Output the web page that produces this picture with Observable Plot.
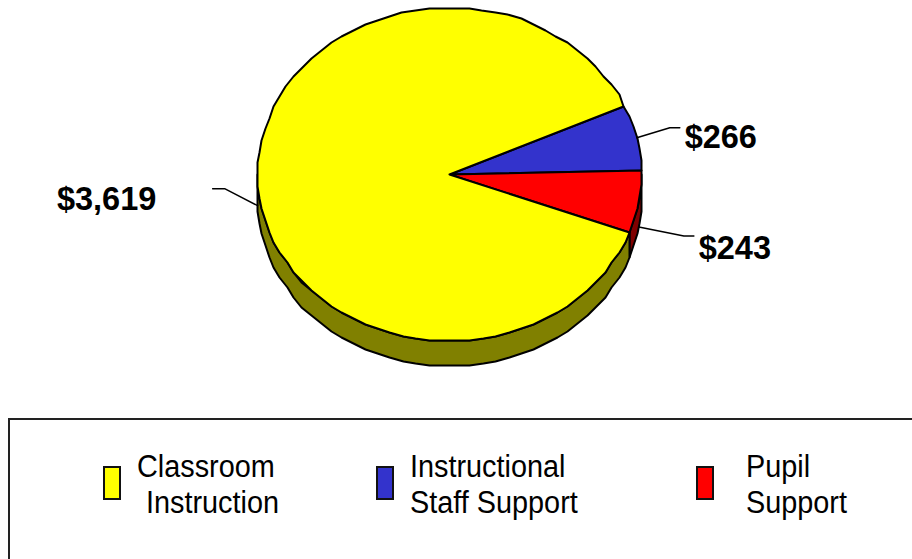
<!DOCTYPE html>
<html><head><meta charset="utf-8">
<script src="https://cdn.jsdelivr.net/npm/d3@7"></script>
<script src="https://cdn.jsdelivr.net/npm/@observablehq/plot@0.6"></script>
<style>
html,body{margin:0;padding:0;background:#fff;overflow:hidden;width:912px;height:559px}
#chart{position:absolute;left:0;top:0}
svg{display:block}
#legend{position:absolute;left:8px;top:418px;width:906px;height:143px;box-sizing:border-box;border:2px solid #222;font-family:"Liberation Sans",Arial,sans-serif;font-size:31px;color:#000}
#legend span{position:absolute;white-space:nowrap;line-height:36px;transform:scaleX(.93);transform-origin:left center}
#legend i{position:absolute;width:14px;height:30px;top:46px;border:2px solid #111;}
</style></head><body>
<div id="chart"></div>
<div id="legend"></div>
<script>
const categories = ["Instructional Staff Support", "Pupil Support", "Classroom Instruction"];
const values = [266, 243, 3619];
const valueLabels = ["$266", "$243", "$3,619"];
const topColors = ["#3333cc", "#ff0000", "#ffff00"];
const wallColors = ["#1a1a66", "#800000", "#808000"];
const startAngle = 24.3;
const legendOrder = [2, 0, 1];
const legendLines = [["Classroom", "Instruction"], ["Instructional", "Staff Support"], ["Pupil", "Support"]];

// pie layout, px
const W = 912, H = 418, cx = 449, cy = 174, rx = 192, ry = 167, depth = 25 / ry;
const grid = 2;
const rad = d => d * Math.PI / 180;
const px = a => Math.round(rx * Math.cos(rad(a)) / grid) * grid / rx;
const py = a => Math.round(ry * Math.sin(rad(a)) / grid) * grid / ry;

const total = d3.sum(values);
let cur = startAngle;
const slices = values.map((v, i) => {
  const a0 = cur, a1 = cur - v / total * 360; cur = a1;
  return {i, a0, a1, mid: (a0 + a1) / 2};
});
function arc(a0, a1) {
  const n = Math.max(1, Math.round(Math.abs(a1 - a0) / 4));
  return d3.range(n + 1).map(k => a0 + (a1 - a0) * k / n);
}
const topPts = [], wallPts = [];
for (const s of slices) {
  const ring = [[0, 0], ...arc(s.a0, s.a1).map(a => [px(a), py(a)]), [0, 0]];
  ring.forEach(p => topPts.push({x: p[0], y: p[1], i: s.i, fill: topColors[s.i]}));
  // visible wall: only the part of the rim on the lower half of the ellipse
  const from = Math.min(s.a0, 0), to = Math.max(s.a1, -180);
  if (from > to) {
    const as = arc(from, to);
    const w = [...as.map(t => [px(t), py(t)]), ...as.slice().reverse().map(t => [px(t), py(t) - depth])];
    w.push(w[0]);
    w.forEach(p => wallPts.push({x: p[0], y: p[1], i: s.i, fill: wallColors[s.i]}));
  }
}
// leader lines start on the slice's midpoint on the rim; offsets in px
const leaderShape = [
  {from: 0, elbow: [33, -10], end: [43, -10], label: [84, -0.5]},
  {from: 25, elbow: [45, 9], end: [55, 9], label: [96, 22]},
  {from: 25, elbow: [-33, -17], end: [-45, -17], label: [-151, -6]}
];
const leaderPts = [], labelPts = [];
slices.forEach(s => {
  const L = leaderShape[s.i];
  const x0 = Math.cos(rad(s.mid)), y0 = Math.sin(rad(s.mid)) - L.from / ry;
  [[0, 0], L.elbow, L.end].forEach(o => leaderPts.push({x: x0 + o[0] / rx, y: y0 - o[1] / ry, i: s.i}));
  labelPts.push({x: x0 + L.label[0] / rx, y: y0 - L.label[1] / ry, t: valueLabels[s.i]});
});

const plot = Plot.plot({
  width: W, height: H,
  margin: 0,
  x: {domain: [-cx / rx, (W - cx) / rx], range: [0, W], axis: null},
  y: {domain: [cy / ry, (cy - H) / ry], range: [0, H], axis: null},
  color: {type: "identity"},
  marks: [
    Plot.line(wallPts, {x: "x", y: "y", z: "i", fill: "fill", stroke: "#000", strokeWidth: 2, curve: "linear"}),
    Plot.line(topPts, {x: "x", y: "y", z: "i", fill: "fill", stroke: "#000", strokeWidth: 2, curve: "linear"}),
    Plot.line(leaderPts, {x: "x", y: "y", z: "i", stroke: "#000", strokeWidth: 1.5, curve: "linear"}),
    Plot.text(labelPts, {x: "x", y: "y", text: "t", fontFamily: "Liberation Sans", fontWeight: "bold", fontSize: 32.5, fill: "#000"})
  ]
});
document.getElementById("chart").append(plot);

const leg = d3.select("#legend");
const swatchX = [93, 366, 686], textX = [[127, 136], [400, 400], [736, 736]];
legendOrder.forEach((c, k) => {
  leg.append("i").style("left", swatchX[k] + "px").style("background", topColors[c]);
  legendLines[k].forEach((t, j) => {
    leg.append("span").text(t).style("left", textX[k][j] + "px").style("top", (29 + j * 36) + "px");
  });
});
</script>
</body></html>
